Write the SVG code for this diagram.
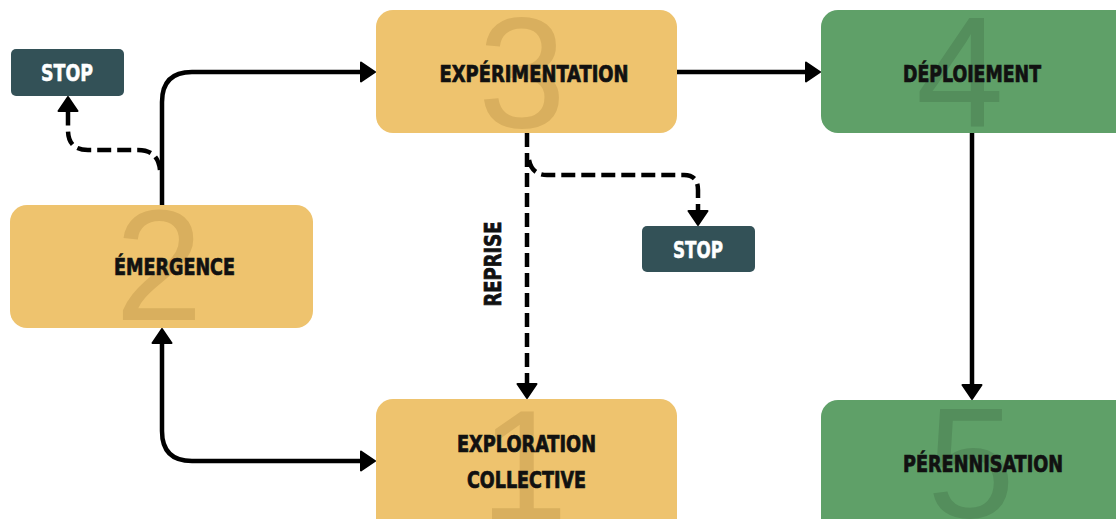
<svg xmlns="http://www.w3.org/2000/svg" width="1116" height="519" viewBox="0 0 1116 519">
<defs>
<style>
.y{fill:#EEC36E}
.g{fill:#5FA068}
.s{fill:#335157}
.dy{fill:#D9AF5E}
.dg{fill:#548E5C}
.num{font-family:"Liberation Sans","DejaVu Sans",sans-serif;font-size:158px;text-anchor:middle}
.lbl{font-family:"Liberation Sans Narrow","DejaVu Sans Condensed","Liberation Sans",sans-serif;font-weight:bold;font-size:23px;fill:#111;stroke:#111;stroke-width:0.7;text-anchor:middle}
.stp{font-family:"Liberation Sans Narrow","DejaVu Sans Condensed","Liberation Sans",sans-serif;font-weight:bold;font-size:23px;fill:#fff;stroke:#fff;stroke-width:0.5;text-anchor:middle}
.ln{fill:none;stroke:#000;stroke-width:4.5;stroke-linejoin:round}
.dash{stroke-dasharray:14 6}
</style>
<marker id="ah" markerUnits="userSpaceOnUse" viewBox="0 0 16 22" markerWidth="16" markerHeight="22" refX="8" refY="11" orient="auto-start-reverse">
<path d="M1,1.5 L15,11 L1,20.5 Z" fill="#000" stroke="#000" stroke-width="2" stroke-linejoin="round"/>
</marker>
</defs>
<rect width="1116" height="519" fill="#fff"/>

<g id="connectors">
<path class="ln" d="M162,205 L162,102 Q162,72 192,72 L368,72" marker-end="url(#ah)"/>
<path class="ln dash" d="M160,170 Q158,150 138,150 L88,150 Q68,150 68,130 L68,104" marker-end="url(#ah)"/>
<path class="ln" d="M677,72 L813,72" marker-end="url(#ah)"/>
<path class="ln" d="M972,133 L972,392" marker-end="url(#ah)"/>
<path class="ln" d="M162,336 L162,431 Q162,461 192,461 L368,461" marker-start="url(#ah)" marker-end="url(#ah)"/>
<path class="ln dash" d="M527,133 L527,391" marker-end="url(#ah)"/>
<path class="ln dash" d="M529,160 Q532,175 547,175 L684,175 Q698,175 698,190 L698,218" marker-end="url(#ah)"/>
<text class="lbl" transform="translate(501,264) rotate(-90)" textLength="85" lengthAdjust="spacingAndGlyphs">REPRISE</text>
</g>

<g id="stop1">
<rect class="s" x="11" y="49" width="113" height="47" rx="5"/>
<text class="stp" x="67" y="81" textLength="52" lengthAdjust="spacingAndGlyphs">STOP</text>
</g>

<g id="experimentation">
<rect class="y" x="376" y="10" width="301" height="123" rx="17"/>
<text class="num dy" x="522" y="127">3</text>
<text class="lbl" x="534" y="82" textLength="189" lengthAdjust="spacingAndGlyphs">EXPÉRIMENTATION</text>
</g>

<g id="deploiement">
<rect class="g" x="821" y="10" width="310" height="123" rx="17"/>
<text class="num dg" x="960" y="127">4</text>
<text class="lbl" x="972" y="82" textLength="138" lengthAdjust="spacingAndGlyphs">DÉPLOIEMENT</text>
</g>

<g id="emergence">
<rect class="y" x="10" y="205" width="303" height="123" rx="17"/>
<text class="num dy" x="159" y="320">2</text>
<text class="lbl" x="174.5" y="275" textLength="121" lengthAdjust="spacingAndGlyphs">ÉMERGENCE</text>
</g>

<g id="stop2">
<rect class="s" x="642" y="226" width="113" height="46" rx="5"/>
<text class="stp" x="698" y="258" textLength="50" lengthAdjust="spacingAndGlyphs">STOP</text>
</g>

<g id="exploration">
<rect class="y" x="376" y="399" width="301" height="140" rx="17"/>
<text class="num dy" x="524" y="520">1</text>
<text class="lbl" x="526.5" y="452" textLength="139" lengthAdjust="spacingAndGlyphs">EXPLORATION</text>
<text class="lbl" x="526.5" y="488" textLength="119" lengthAdjust="spacingAndGlyphs">COLLECTIVE</text>
</g>

<g id="perennisation">
<rect class="g" x="821" y="400" width="310" height="140" rx="17"/>
<text class="num dg" x="971" y="517">5</text>
<text class="lbl" x="983" y="472" textLength="160" lengthAdjust="spacingAndGlyphs">PÉRENNISATION</text>
</g>
</svg>
